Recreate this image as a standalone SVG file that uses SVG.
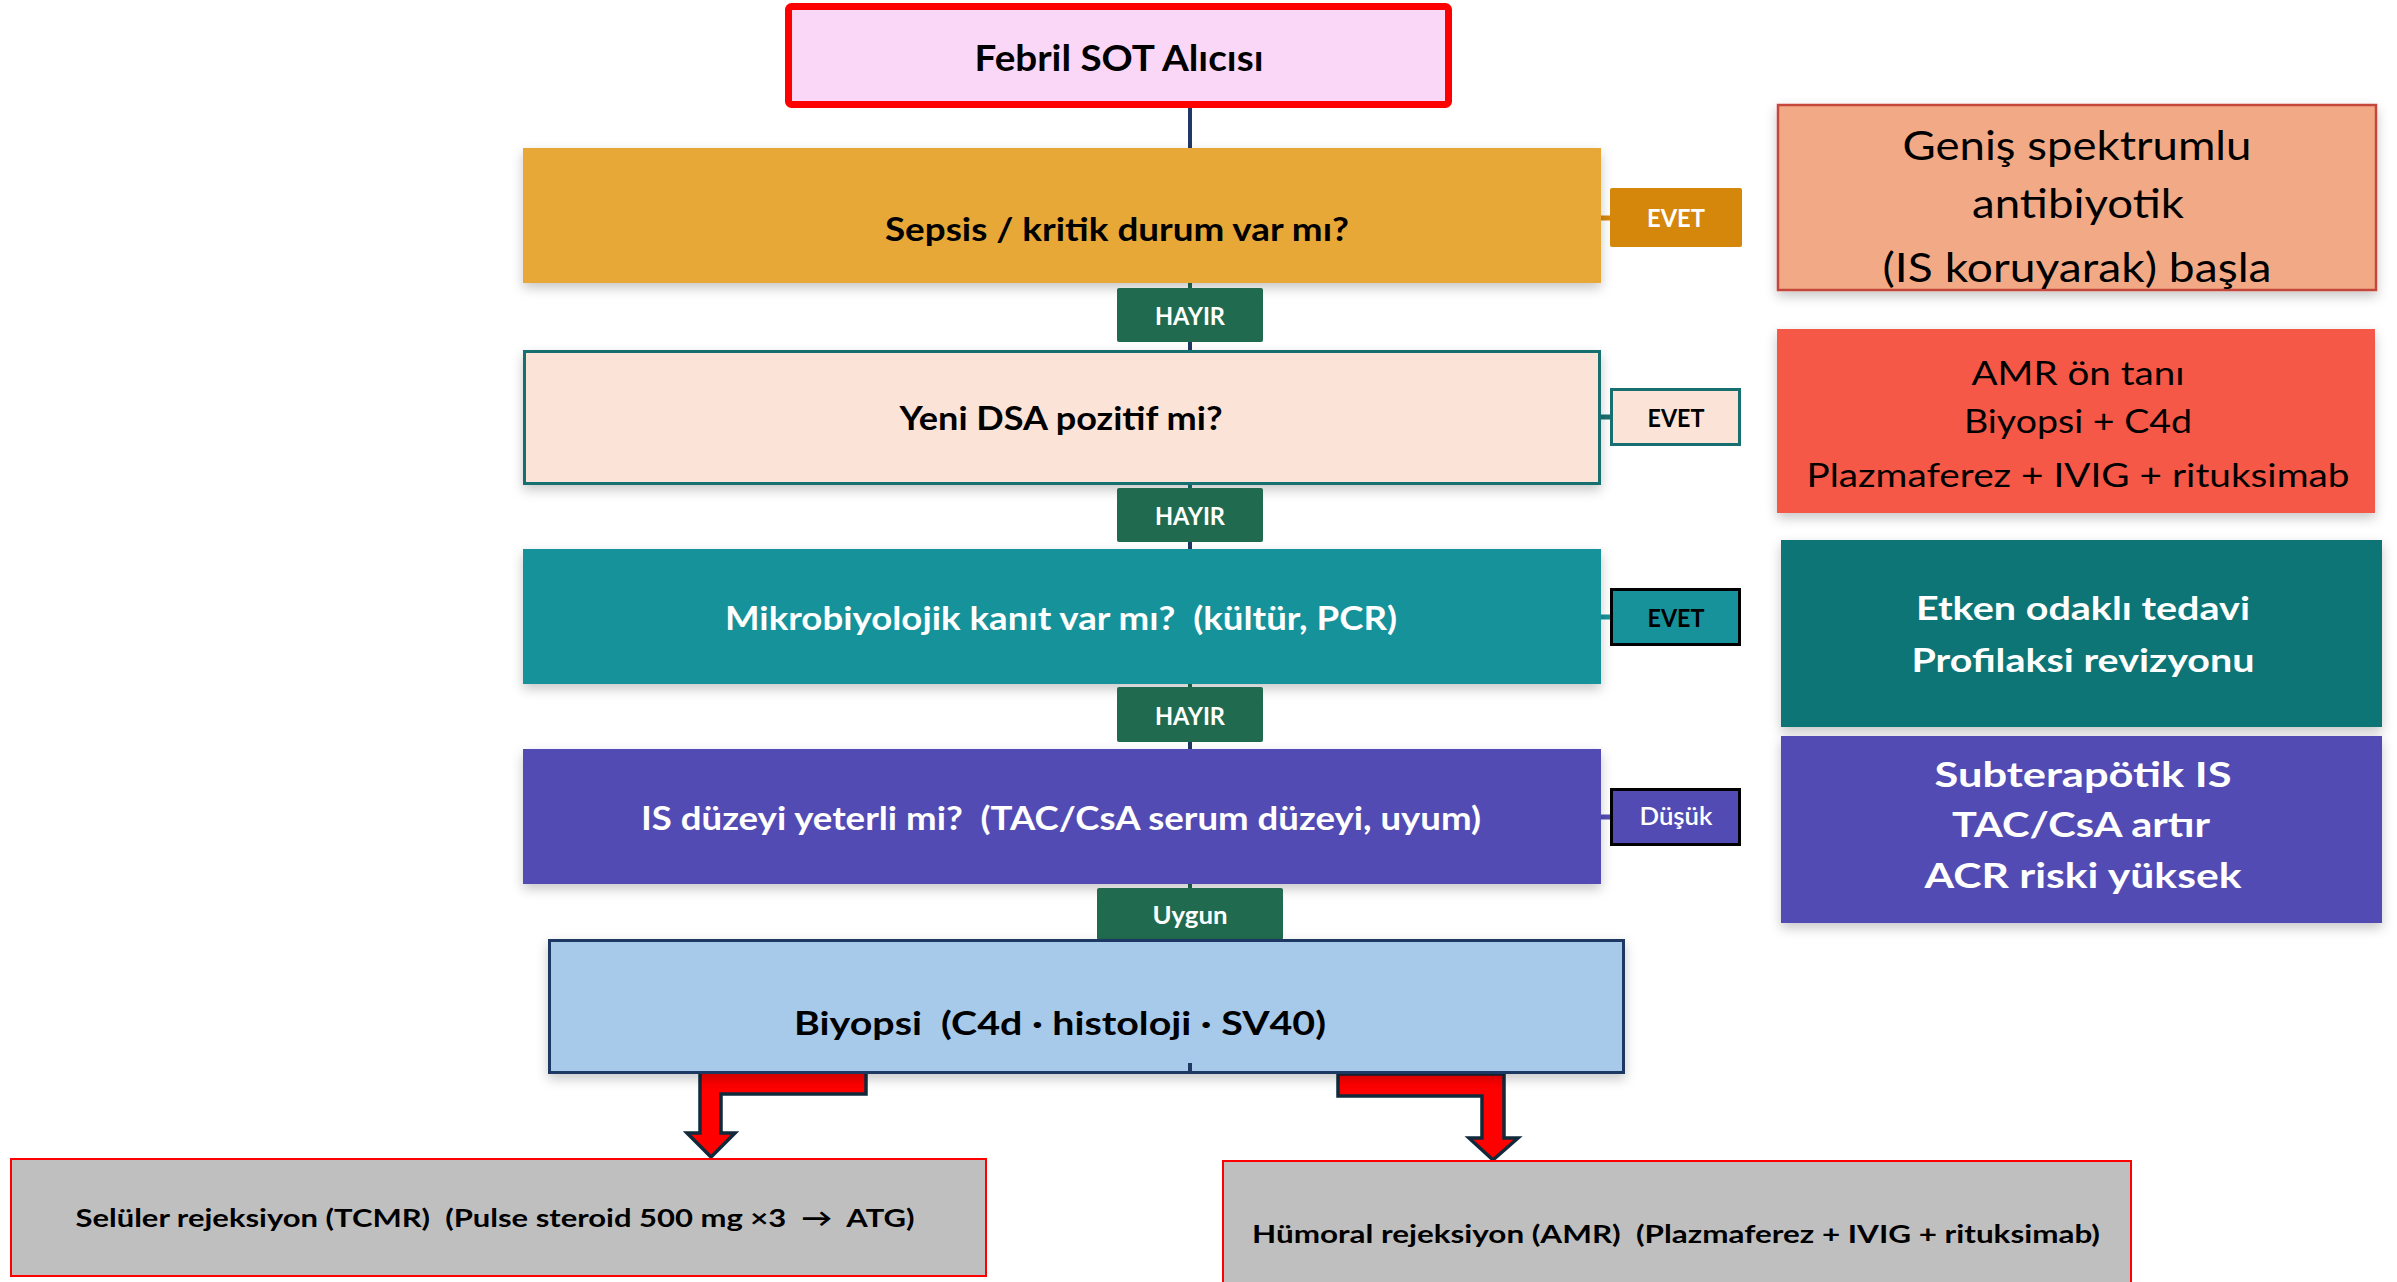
<svg xmlns="http://www.w3.org/2000/svg" width="2397" height="1282" viewBox="0 0 2397 1282">
<defs>
<filter id="sh" x="-5%" y="-10%" width="110%" height="130%">
<feDropShadow dx="0" dy="5" stdDeviation="6" flood-color="#000" flood-opacity="0.22"/>
</filter>
<style>
text{font-family:Lato,"Liberation Sans",sans-serif;text-anchor:middle;white-space:pre}
.b{font-weight:700}
.w{fill:#fff}
.k{fill:#000}
.lbl{font-size:25px;font-weight:700}
.main{font-size:32px;font-weight:700}
.cn{fill:none;stroke:#1F3864;stroke-width:4}
.arrow{fill:#FF0000;stroke:#102A3C;stroke-width:3.5;stroke-linejoin:miter}
</style>
</defs>
<rect width="2397" height="1282" fill="#fff"/>

<g id="connectors">
<line class="cn" x1="1190" y1="106" x2="1190" y2="1073"/>
<line x1="1190" y1="283" x2="1190" y2="290" stroke="#206B4F" stroke-width="4"/>
<line x1="1190" y1="484" x2="1190" y2="490" stroke="#17706F" stroke-width="4"/>
<line x1="1190" y1="684" x2="1190" y2="689" stroke="#206B4F" stroke-width="4"/>
<line x1="1190" y1="884" x2="1190" y2="890" stroke="#206B4F" stroke-width="4"/>
<line x1="1600" y1="218" x2="1612" y2="218" stroke="#D5870C" stroke-width="5"/>
<line x1="1600" y1="417" x2="1612" y2="417" stroke="#17706F" stroke-width="5"/>
<line x1="1600" y1="617" x2="1612" y2="617" stroke="#17929A" stroke-width="5"/>
<line x1="1600" y1="817" x2="1612" y2="817" stroke="#534BB4" stroke-width="5"/>
<polygon class="arrow" points="700,1071 866,1071 866,1094 721,1094 721,1133 735,1133 711,1157 687,1133 700,1133"/>
<polygon class="arrow" points="1338,1074 1504,1074 1504,1138 1518,1138 1493,1160 1469,1138 1482,1138 1482,1096 1338,1096"/>
</g>

<g id="start">
<rect x="788.5" y="6.5" width="660" height="98" rx="3" fill="#FAD7F6" stroke="#FF0000" stroke-width="7"/>
<text class="b k" x="1119" y="71" font-size="36" textLength="289" lengthAdjust="spacingAndGlyphs">Febril SOT Alıcısı</text>
</g>

<g id="sepsis">
<rect x="523" y="148" width="1078" height="135" fill="#E7A839" filter="url(#sh)"/>
<text class="main k" x="1117" y="241" textLength="464" lengthAdjust="spacingAndGlyphs">Sepsis / kritik durum var mı?</text>
</g>
<g id="evet1">
<rect x="1610" y="188" width="132" height="59" rx="2" fill="#D5870C"/>
<text class="lbl w" x="1676" y="227" textLength="58" lengthAdjust="spacingAndGlyphs">EVET</text>
</g>
<g id="sonuc1">
<rect x="1778" y="105" width="598" height="185" fill="#F2AA86" stroke="#C5463B" stroke-width="2.5" filter="url(#sh)"/>
<text class="k" x="2077" y="160" font-size="41" textLength="349" lengthAdjust="spacingAndGlyphs">Geniş spektrumlu</text>
<text class="k" x="2078" y="218" font-size="41" textLength="212" lengthAdjust="spacingAndGlyphs">antibiyotik</text>
<text class="k" x="2077" y="282" font-size="41" textLength="389" lengthAdjust="spacingAndGlyphs">(IS koruyarak) başla</text>
</g>

<g id="hayir1">
<rect x="1117" y="288" width="146" height="54" rx="2" fill="#206B4F"/>
<text class="lbl w" x="1190" y="325" textLength="70" lengthAdjust="spacingAndGlyphs">HAYIR</text>
</g>

<g id="dsa">
<rect x="524.5" y="351.5" width="1075" height="132" fill="#FBE3D7" stroke="#17706F" stroke-width="3" filter="url(#sh)"/>
<text class="main k" x="1061" y="430" textLength="323" lengthAdjust="spacingAndGlyphs">Yeni DSA pozitif mi?</text>
</g>
<g id="evet2">
<rect x="1611.5" y="389.5" width="128" height="55" fill="#FBE3D7" stroke="#17706F" stroke-width="3"/>
<text class="lbl k" x="1676" y="427" textLength="57" lengthAdjust="spacingAndGlyphs">EVET</text>
</g>
<g id="sonuc2">
<rect x="1777" y="329" width="598" height="184" fill="#F65846" filter="url(#sh)"/>
<text class="k" x="2078" y="385" font-size="33" textLength="213" lengthAdjust="spacingAndGlyphs">AMR ön tanı</text>
<text class="k" x="2078" y="433" font-size="33" textLength="228" lengthAdjust="spacingAndGlyphs">Biyopsi + C4d</text>
<text class="k" x="2078" y="487" font-size="33" textLength="543" lengthAdjust="spacingAndGlyphs">Plazmaferez + IVIG + rituksimab</text>
</g>

<g id="hayir2">
<rect x="1117" y="488" width="146" height="54" rx="2" fill="#206B4F"/>
<text class="lbl w" x="1190" y="525" textLength="70" lengthAdjust="spacingAndGlyphs">HAYIR</text>
</g>

<g id="mikro">
<rect x="523" y="549" width="1078" height="135" fill="#17929A" filter="url(#sh)"/>
<text class="main w" x="1061" y="630" textLength="672" lengthAdjust="spacingAndGlyphs">Mikrobiyolojik kanıt var mı?  (kültür, PCR)</text>
</g>
<g id="evet3">
<rect x="1611.5" y="589.5" width="128" height="55" fill="#17929A" stroke="#000" stroke-width="3"/>
<text class="lbl k" x="1676" y="627" textLength="57" lengthAdjust="spacingAndGlyphs">EVET</text>
</g>
<g id="sonuc3">
<rect x="1781" y="540" width="601" height="187" fill="#107475" filter="url(#sh)"/>
<text class="b w" x="2083" y="620" font-size="32" textLength="334" lengthAdjust="spacingAndGlyphs">Etken odaklı tedavi</text>
<text class="b w" x="2083" y="672" font-size="32" textLength="343" lengthAdjust="spacingAndGlyphs">Profilaksi revizyonu</text>
</g>

<g id="hayir3">
<rect x="1117" y="687" width="146" height="55" rx="2" fill="#206B4F"/>
<text class="lbl w" x="1190" y="725" textLength="70" lengthAdjust="spacingAndGlyphs">HAYIR</text>
</g>

<g id="is">
<rect x="523" y="749" width="1078" height="135" fill="#534BB4" filter="url(#sh)"/>
<text class="main w" x="1061" y="830" textLength="840" lengthAdjust="spacingAndGlyphs">IS düzeyi yeterli mi?  (TAC/CsA serum düzeyi, uyum)</text>
</g>
<g id="dusuk">
<rect x="1611.5" y="789.5" width="128" height="55" fill="#534BB4" stroke="#000" stroke-width="3"/>
<text class="w" x="1676" y="825" font-size="25" font-weight="600" textLength="73" lengthAdjust="spacingAndGlyphs">Düşük</text>
</g>
<g id="sonuc4">
<rect x="1781" y="736" width="601" height="187" fill="#534BB4" filter="url(#sh)"/>
<text class="b w" x="2083" y="787" font-size="34" textLength="297" lengthAdjust="spacingAndGlyphs">Subterapötik IS</text>
<text class="b w" x="2081" y="837" font-size="34" textLength="258" lengthAdjust="spacingAndGlyphs">TAC/CsA artır</text>
<text class="b w" x="2083" y="888" font-size="34" textLength="317" lengthAdjust="spacingAndGlyphs">ACR riski yüksek</text>
</g>

<g id="uygun">
<rect x="1097" y="888" width="186" height="52" rx="2" fill="#206B4F"/>
<text class="lbl w" x="1190" y="924" textLength="75" lengthAdjust="spacingAndGlyphs">Uygun</text>
</g>

<g id="biyopsi">
<rect x="549.5" y="940.5" width="1074" height="132" fill="#A7CAEB" stroke="#1F3864" stroke-width="3" filter="url(#sh)"/>
<text class="main k" x="1060" y="1035" textLength="532" lengthAdjust="spacingAndGlyphs">Biyopsi  (C4d · histoloji · SV40)</text>
<line x1="1190" y1="1063" x2="1190" y2="1072" stroke="#1F3864" stroke-width="4"/>
</g>

<g id="tcmr">
<rect x="11" y="1159" width="975" height="117" fill="#BFBFBF" stroke="#FF0000" stroke-width="2"/>
<text class="b k" x="495" y="1227" font-size="25" textLength="839" lengthAdjust="spacingAndGlyphs">Selüler rejeksiyon (TCMR)  (Pulse steroid 500 mg ×3  →  ATG)</text>
</g>
<g id="amr">
<rect x="1223" y="1161" width="908" height="130" fill="#BFBFBF" stroke="#FF0000" stroke-width="2"/>
<text class="b k" x="1676" y="1243" font-size="25" textLength="848" lengthAdjust="spacingAndGlyphs">Hümoral rejeksiyon (AMR)  (Plazmaferez + IVIG + rituksimab)</text>
</g>
</svg>
